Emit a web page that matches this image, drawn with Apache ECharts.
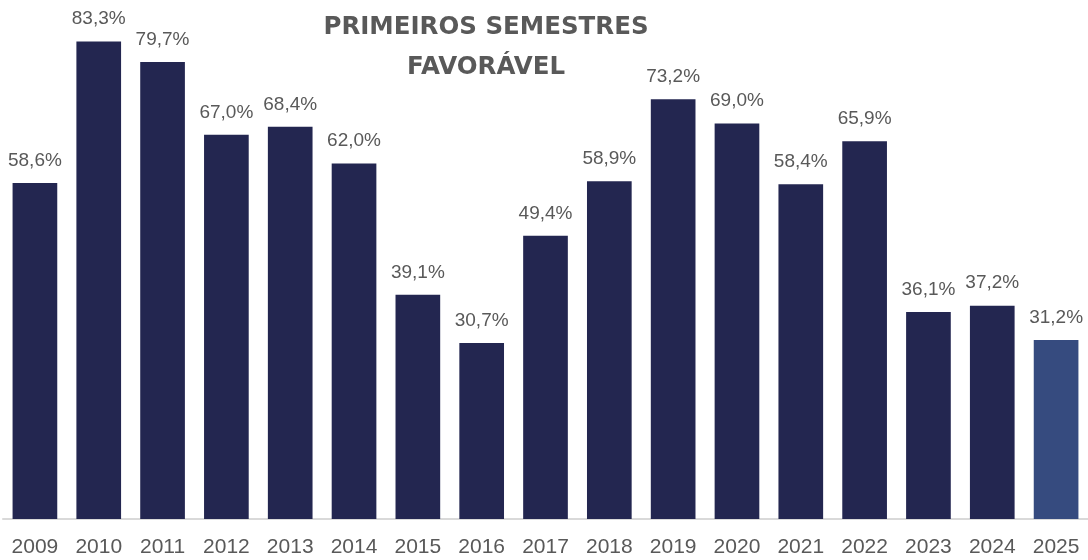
<!DOCTYPE html>
<html>
<head>
<meta charset="utf-8">
<script src="https://cdn.jsdelivr.net/npm/echarts@6/dist/echarts.min.js"></script>
<style>
  html, body { margin: 0; padding: 0; background: #fff; }
  #chart { width: 1088px; height: 560px; }
</style>
</head>
<body>
<div id="chart"></div>
<script>
const years = ['2009', '2010', '2011', '2012', '2013', '2014', '2015', '2016', '2017',
  '2018', '2019', '2020', '2021', '2022', '2023', '2024', '2025'];
const values = [58.6, 83.3, 79.7, 67.0, 68.4, 62.0, 39.1, 30.7, 49.4,
  58.9, 73.2, 69.0, 58.4, 65.9, 36.1, 37.2, 31.2];
const titleLines = ['PRIMEIROS SEMESTRES', 'FAVORÁVEL'];

const colors = {dark: '#232650', last: '#364b7f', text: '#595959', axis: '#d9d9d9'};

const chart = echarts.init(document.getElementById('chart'));
chart.setOption({
  animation: false,
  title: {
    text: titleLines.join('\n'),
    left: 481,
    top: 3,
    textAlign: 'center',
    textStyle: {
      color: colors.text,
      fontFamily: 'DejaVu Sans',
      fontWeight: 'bold',
      fontSize: 24.5,
      lineHeight: 40
    }
  },
  grid: {left: 3, right: -2, top: 3, bottom: 41, containLabel: false},
  xAxis: {
    type: 'category',
    data: years,
    axisLine: {lineStyle: {color: colors.axis, width: 2}},
    axisTick: {show: false},
    axisLabel: {
      color: colors.text,
      fontFamily: 'Liberation Sans',
      fontSize: 21,
      margin: 18
    }
  },
  yAxis: {
    type: 'value',
    min: 0,
    max: 90,
    show: false
  },
  series: [{
    type: 'bar',
    barWidth: '70%',
    data: values.map((v, i) => ({
      value: v,
      itemStyle: {color: i === values.length - 1 ? colors.last : colors.dark}
    })),
    label: {
      show: true,
      position: 'top',
      distance: 13,
      color: colors.text,
      fontFamily: 'Liberation Sans',
      fontSize: 19,
      formatter: p => p.value.toFixed(1).replace('.', ',') + '%'
    }
  }]
});
</script>
</body>
</html>
